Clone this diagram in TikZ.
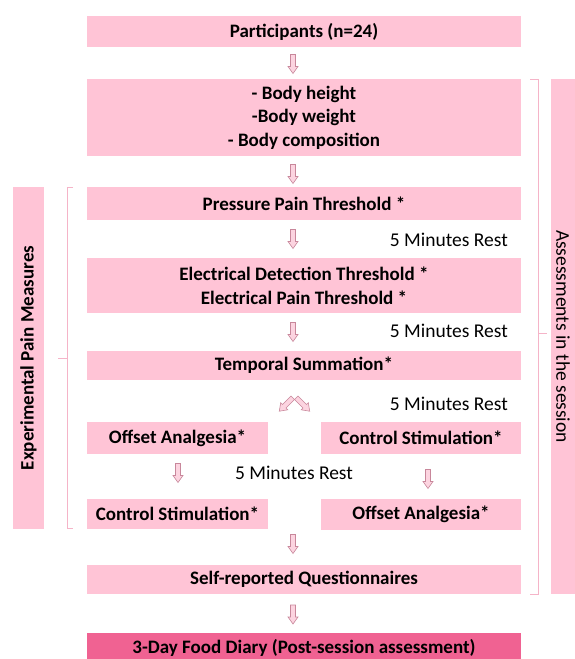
\documentclass[tikz,border=0pt]{standalone}
\usepackage{fontspec}
\setmainfont{Carlito}
\definecolor{boxpink}{RGB}{255,196,214}
\definecolor{hotpink}{RGB}{240,98,146}
\definecolor{lineink}{RGB}{245,180,200}
\definecolor{arrowline}{RGB}{200,135,155}
\definecolor{arrowfill}{RGB}{252,212,224}
\begin{document}
\begin{tikzpicture}[x=1pt,y=-1pt,
  box/.style={fill=boxpink, inner sep=0pt, align=center, font=\fontsize{19}{24}\selectfont\bfseries},
  rest/.style={font=\fontsize{19.5}{22}\selectfont, inner sep=0pt},
  brk/.style={draw=lineink, line width=0.8pt},
  barrow/.pic={\draw[draw=arrowline, fill=arrowfill, line width=0.6pt]
     (-2.5,-9.5) -- (2.5,-9.5) -- (2.5,2.5) -- (5,2.5) -- (0,9.5) -- (-5,2.5) -- (-2.5,2.5) -- cycle;}
]
\useasboundingbox (0,0) rectangle (575,659);
% main column
\node[box, minimum width=434pt, minimum height=31pt] (part) at (304,31.5) {Participants (n=24)};
\node[box, minimum width=434pt, minimum height=77pt, font=\fontsize{19}{23.5}\selectfont\bfseries] (body) at (304,117.5) {- Body height\\-Body weight\\- Body composition};
\node[box, minimum width=434pt, minimum height=33pt] (press) at (304,203.5) {Pressure Pain Threshold *};
\node[box, minimum width=434pt, minimum height=55pt] (elec) at (304,285.5) {Electrical Detection Threshold *\\Electrical Pain Threshold *};
\node[box, minimum width=434pt, minimum height=29pt] (temp) at (304,365.5) {Temporal Summation*};
\node[box, minimum width=181pt, minimum height=32pt] (oa1) at (177.5,438) {Offset Analgesia*};
\node[box, minimum width=200pt, minimum height=32pt] (cs1) at (421,438) {Control Stimulation*};
\node[box, minimum width=181pt, minimum height=30pt] (cs2) at (177.5,514) {Control Stimulation*};
\node[box, minimum width=200pt, minimum height=31pt] (oa2) at (421,514.5) {Offset Analgesia*};
\node[box, minimum width=434pt, minimum height=29pt] (self) at (304,579.5) {Self-reported Questionnaires};
\node[box, fill=hotpink, minimum width=434pt, minimum height=30pt] (diary) at (304,648) {3-Day Food Diary (Post-session assessment)};
% block arrows
\pic (a1) at (293,64) {barrow};
\pic (a2) at (293,174) {barrow};
\pic (a3) at (293,239) {barrow};
\pic (a4) at (293,332) {barrow};
\pic (a5) at (178,473) {barrow};
\pic (a6) at (428,479) {barrow};
\pic (a7) at (293,544) {barrow};
\pic (a8) at (293,614.5) {barrow};
\pic[rotate=-45] (d1) at (286,404.5) {barrow};
\pic[rotate=45] (d2) at (303,404.5) {barrow};
% rest labels
\node[rest, anchor=east] (r1) at (508,240) {5 Minutes Rest};
\node[rest, anchor=east] (r2) at (508,331) {5 Minutes Rest};
\node[rest, anchor=east] (r3) at (508,404) {5 Minutes Rest};
\node[rest] (r4) at (294,473) {5 Minutes Rest};
% side boxes
\node[fill=boxpink, inner sep=0pt, minimum width=342pt, minimum height=31pt, rotate=90, font=\fontsize{19}{22}\selectfont\bfseries] (exp) at (28.5,358) {Experimental Pain Measures};
\node[fill=boxpink, inner sep=0pt, minimum width=515pt, minimum height=24pt, rotate=-90, font=\fontsize{19.5}{22}\selectfont] (assess) at (563,336.5) {Assessments in the session};
% brackets
\draw[brk] (73,187) -- (67,187) -- (67,528) -- (73,528);
\draw[brk] (67,358) -- (58,358);
\draw[brk] (530,79) -- (538,79) -- (538,594) -- (530,594);
\draw[brk] (538,333) -- (547,333);
\end{tikzpicture}
\end{document}
